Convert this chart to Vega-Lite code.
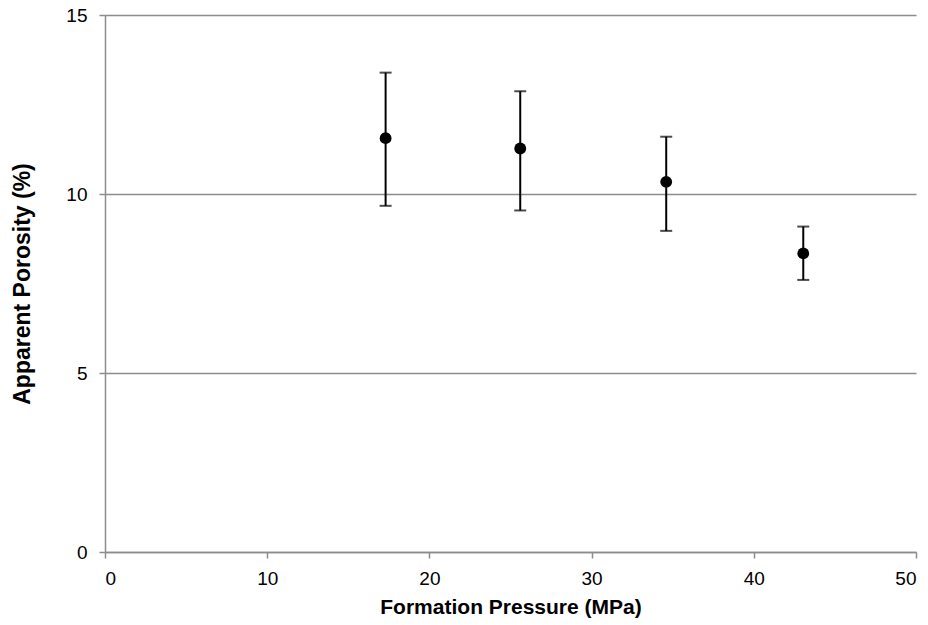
{
  "$schema": "https://vega.github.io/schema/vega-lite/v6.json",
  "width": 811,
  "height": 537,
  "autosize": {"type": "none"},
  "padding": {"left": 105, "top": 15, "right": 12, "bottom": 73},
  "background": "white",
  "config": {
    "view": {"stroke": null},
    "font": "Liberation Sans",
    "axis": {
      "domainColor": "#8c8c8c",
      "domainWidth": 1.5,
      "tickColor": "#8c8c8c",
      "tickWidth": 1.5,
      "tickSize": 6,
      "gridColor": "#8c8c8c",
      "gridWidth": 1.5,
      "labelFont": "Liberation Sans",
      "labelFontSize": 19,
      "labelColor": "#000000",
      "titleFont": "Liberation Sans",
      "titleFontSize": 21,
      "titleFontWeight": "bold",
      "titleColor": "#000000"
    }
  },
  "data": {
    "values": [
      {"pressure": 17.3, "porosity": 11.56, "low": 9.67, "high": 13.39},
      {"pressure": 25.6, "porosity": 11.27, "low": 9.54, "high": 12.87},
      {"pressure": 34.6, "porosity": 10.34, "low": 8.97, "high": 11.6},
      {"pressure": 43.05, "porosity": 8.34, "low": 7.6, "high": 9.09}
    ]
  },
  "encoding": {
    "x": {
      "field": "pressure",
      "type": "quantitative",
      "scale": {"domain": [0, 50], "nice": false},
      "axis": {"values": [0, 10, 20, 30, 40, 50], "grid": false, "title": "Formation Pressure (MPa)", "labelPadding": 11, "titlePadding": 8}
    }
  },
  "layer": [
    {
      "mark": {"type": "rule", "color": "black", "strokeWidth": 2},
      "encoding": {
        "y": {
          "field": "low",
          "type": "quantitative",
          "scale": {"domain": [0, 15], "nice": false},
          "axis": {"values": [0, 5, 10, 15], "grid": true, "title": "Apparent Porosity (%)", "titleFontSize": 23, "labelPadding": 12, "titlePadding": 31}
        },
        "y2": {"field": "high"}
      }
    },
    {
      "mark": {"type": "tick", "orient": "horizontal", "color": "black", "size": 12, "thickness": 2},
      "encoding": {"y": {"field": "low", "type": "quantitative"}}
    },
    {
      "mark": {"type": "tick", "orient": "horizontal", "color": "black", "size": 12, "thickness": 2},
      "encoding": {"y": {"field": "high", "type": "quantitative"}}
    },
    {
      "mark": {"type": "point", "filled": true, "color": "black", "opacity": 1, "size": 140},
      "encoding": {"y": {"field": "porosity", "type": "quantitative"}}
    }
  ]
}
